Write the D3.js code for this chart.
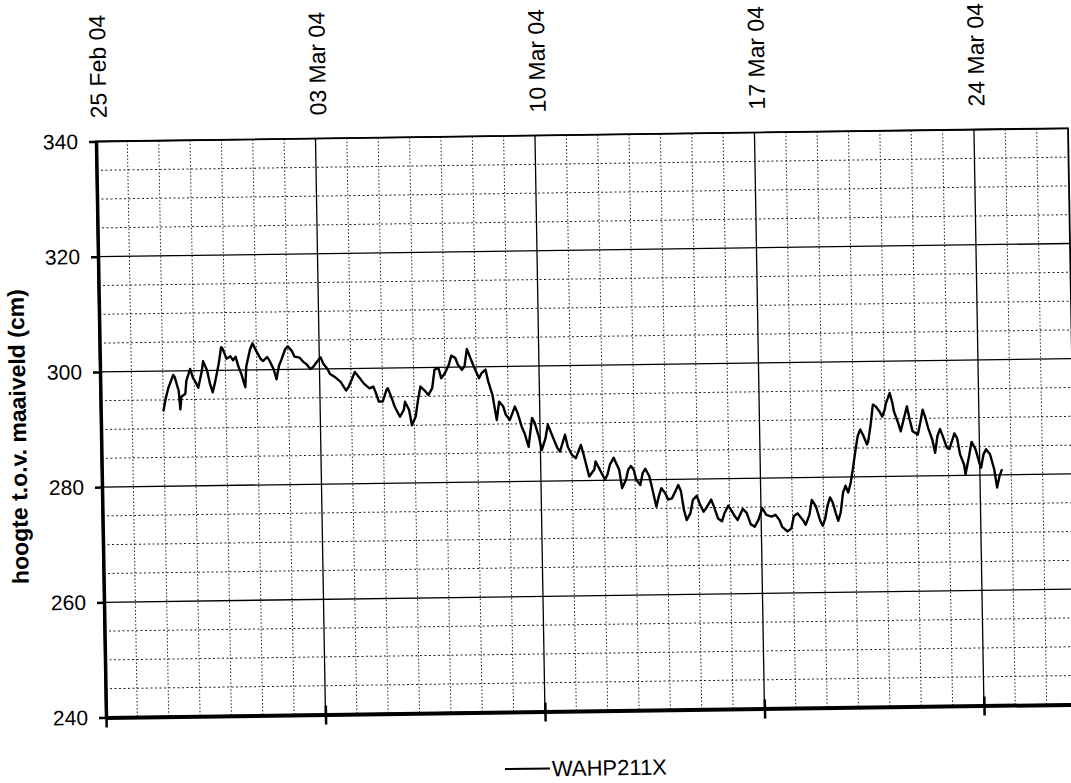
<!DOCTYPE html>
<html>
<head>
<meta charset="utf-8">
<script src="https://cdn.jsdelivr.net/npm/d3@7/dist/d3.min.js"></script>
<style>
body { margin: 0; background: #fff; }
text { font-family: "Liberation Sans", Arial, sans-serif; fill: #000; }
</style>
</head>
<body>
<div id="chart"></div>
<script>
// Water level WAHP211X, 25 Feb - 27 Mar 2004
var recordStart = Date.UTC(2004, 1, 25);   // 25 Feb 2004 00:00
var recordEnd = Date.UTC(2004, 2, 27);     // 27 Mar 2004 00:00

var dateTicks = ["2004-02-25", "2004-03-03", "2004-03-10", "2004-03-17", "2004-03-24"];
var levelTicks = [240, 260, 280, 300, 320, 340];
var seriesName = "WAHP211X";

// hours after 25 Feb 2004 00:00
var hours = [
    48, 50, 52, 56, 57, 60, 61, 62, 65, 66, 69, 71, 73, 75, 78, 79, 82, 84, 86, 88,
    91, 93, 94, 97, 100, 102, 104, 106, 108, 111, 112, 115, 117, 120, 123, 125, 128, 130, 133, 135,
    137, 139, 142, 144, 147, 149, 153, 156, 158, 161, 163, 166, 169, 171, 174, 176, 180, 184, 188, 190,
    193, 195, 198, 202, 206, 209, 211, 213,
    216, 219, 220, 223, 225, 229, 232, 233, 236, 238, 241, 243, 245, 249, 251, 254, 256, 259, 261, 264,
    267, 269, 272, 274, 277, 279, 281, 283, 286, 290, 292, 295, 297, 300, 303, 305, 308, 310, 313, 317,
    319, 322, 324, 327, 330, 332, 335, 337, 340, 342, 345, 349, 351, 355, 357, 360, 363, 367, 369, 373,
    377, 378, 380, 382, 385, 387, 389, 392, 393, 396, 398, 401, 403, 405, 407, 409, 412, 414, 416, 419,
    421, 424, 426, 428, 431, 433, 436, 438, 441, 443, 445, 447, 450, 452, 455, 457, 460, 462, 466, 468,
    471, 474, 476, 479, 481, 484, 486, 490, 493, 496, 499, 502, 505, 508, 512, 515, 518, 520, 524, 527,
    529, 532, 536, 538, 541, 543, 546, 549,
    551, 553, 555, 557, 559, 561, 563, 565, 567, 569, 571, 573, 575, 577, 579, 581, 583, 586, 587, 589,
    591, 593, 596, 598, 600, 601, 604, 606, 607, 610, 612, 615, 617, 619, 621, 625, 627, 629, 631, 633,
    636, 638, 640, 642, 644, 647, 649, 653, 655, 657, 660, 661, 664, 666, 669, 672, 673, 675, 677, 680,
    683, 685, 687, 689
];

// hoogte t.o.v. maaiveld (cm)
var levels = [
    293.0, 295.3, 297.0, 299.3, 299.0, 296.5, 293.3, 295.5, 296.0, 298.3, 300.3, 298.8, 298.0, 297.0, 300.0, 301.6, 300.0, 297.7, 296.2, 298.0,
    301.2, 304.0, 303.8, 302.0, 302.4, 301.7, 302.3, 300.6, 299.4, 297.0, 300.6, 303.5, 304.6, 303.2, 301.9, 301.5, 302.2, 301.5, 300.0, 298.3,
    300.6, 301.7, 303.5, 304.0, 303.2, 302.2, 302.0, 301.2, 300.9, 300.0, 300.3, 301.2, 302.0, 300.9, 300.0, 299.1, 298.5, 297.7, 296.2, 296.8,
    298.3, 299.4, 298.5, 297.3, 296.5, 296.8, 295.6, 294.2,
    294.2, 296.2, 296.5, 294.7, 293.3, 291.5, 292.7, 294.1, 292.7, 290.0, 291.5, 294.4, 296.7, 295.8, 295.2, 296.4, 299.6, 299.9, 298.1, 299.0,
    300.4, 302.0, 301.6, 300.4, 299.5, 300.1, 303.1, 301.9, 300.1, 298.0, 298.9, 299.5, 297.4, 295.1, 290.7, 293.9, 293.1, 291.6, 290.7, 293.0,
    291.9, 289.5, 288.4, 286.0, 291.0, 290.1, 287.7, 285.4, 287.4, 289.8, 288.0, 285.7, 285.1, 288.0, 285.9, 284.5, 283.9, 286.2, 284.5, 280.7,
    281.9, 283.3, 282.4, 281.5, 280.1, 281.0, 282.7, 283.9, 283.3, 281.8, 278.6, 280.0, 281.8, 282.4, 281.8, 280.0, 279.1, 281.2, 281.9, 280.6,
    278.5, 275.3, 277.1, 278.5, 277.6, 276.5, 276.7, 277.6, 279.0, 277.9, 274.7, 272.9, 274.1, 276.4, 277.1, 275.8, 274.3, 274.9, 276.4, 275.2,
    273.1, 272.6, 274.0, 275.3, 274.6, 273.4, 272.8, 274.7, 274.0, 272.0, 271.6, 272.8, 274.8, 273.6, 273.3, 273.6, 272.7, 271.5, 270.7, 271.2,
    273.3, 273.8, 272.6, 271.8, 273.5, 276.1, 275.0, 272.6,
    271.6, 272.8, 275.1, 276.5, 275.6, 273.9, 272.4, 273.9, 277.3, 278.5, 277.3, 279.0, 281.6, 284.5, 287.1, 288.2, 287.3, 285.6, 286.2, 289.0,
    292.5, 292.2, 291.3, 290.4, 291.6, 292.7, 294.5, 292.7, 291.3, 289.3, 287.8, 290.4, 292.1, 289.8, 287.8, 287.2, 289.2, 291.5, 290.1, 288.3,
    286.3, 284.0, 286.9, 288.1, 286.9, 284.9, 284.6, 287.3, 286.5, 283.7, 281.9, 280.2, 283.4, 285.8, 284.5, 281.9, 281.3, 283.6, 284.5, 283.6,
    281.0, 277.8, 279.8, 281.0
];

// Set up chart area
var svgWidth = 1071;
var svgHeight = 783;
var width = 972;
var height = 576;

// the original is a slightly skewed scan, so the whole chart gets a small shear
var svg = d3.select("#chart")
    .append("svg")
        .attr("width", svgWidth)
        .attr("height", svgHeight);

var chart = svg.append("g")
    .attr("transform", "matrix(1,-0.01358,0.01736,1,96,141.5)");

var parseDay = d3.utcParse("%Y-%m-%d");
var weekDates = dateTicks.map(parseDay);

var x = d3.scaleUtc()
    .domain([new Date(recordStart), new Date(recordEnd)])
    .range([0, width]);

var y = d3.scaleLinear()
    .domain([240, 340])
    .range([height, 0]);

var data = hours.map(function(h, i) {
    return { date: new Date(recordStart + h * 3600000), level: levels[i] };
});

// minor gridlines: every day, every 5 cm
var days = d3.utcDay.range(new Date(recordStart), new Date(recordEnd))
    .filter(d => !weekDates.some(w => +w === +d));
var minorLevels = d3.range(245, 340, 5).filter(v => v % 20 !== 0);

chart.append("g").selectAll("line")
    .data(days)
    .join("line")
        .attr("x1", d => x(d)).attr("x2", d => x(d))
        .attr("y1", 0).attr("y2", height)
        .attr("stroke", "#222")
        .attr("stroke-width", 1)
        .attr("stroke-dasharray", "1.5,2");

chart.append("g").selectAll("line")
    .data(minorLevels)
    .join("line")
        .attr("x1", 0).attr("x2", width)
        .attr("y1", d => y(d)).attr("y2", d => y(d))
        .attr("stroke", "#222")
        .attr("stroke-width", 1)
        .attr("stroke-dasharray", "2,2.5");

// major gridlines
chart.append("g").selectAll("line")
    .data(weekDates.slice(1))
    .join("line")
        .attr("x1", d => x(d)).attr("x2", d => x(d))
        .attr("y1", 0).attr("y2", height)
        .attr("stroke", "#000")
        .attr("stroke-width", 1.3);

chart.append("g").selectAll("line")
    .data(levelTicks.slice(1))
    .join("line")
        .attr("x1", 0).attr("x2", width)
        .attr("y1", d => y(d)).attr("y2", d => y(d))
        .attr("stroke", "#000")
        .attr("stroke-width", 1.3);

// plot border
chart.append("rect")
    .attr("width", width)
    .attr("height", height)
    .attr("fill", "none")
    .attr("stroke", "#000")
    .attr("stroke-width", 1.8);

// the series
var line = d3.line()
    .x(d => x(d.date))
    .y(d => y(d.level));

chart.append("path")
    .datum(data)
    .attr("d", line)
    .attr("fill", "none")
    .attr("stroke", "#000")
    .attr("stroke-width", 2.4)
    .attr("stroke-linejoin", "round");

// bottom axis with crossing ticks
var xAxis = chart.append("g")
    .attr("transform", "translate(0," + height + ")")
    .call(d3.axisBottom(x).tickValues(weekDates).tickSize(10).tickSizeOuter(0).tickFormat(""));
xAxis.select(".domain").attr("stroke-width", 4);
xAxis.selectAll(".tick line").attr("y1", -9).attr("stroke-width", 2.5);

// left axis
var yAxis = chart.append("g")
    .call(d3.axisLeft(y).tickValues(levelTicks).tickSize(7).tickSizeOuter(0).tickPadding(11).tickFormat(d3.format("d")));
yAxis.select(".domain").attr("stroke-width", 3.5);
yAxis.selectAll(".tick line").attr("stroke-width", 2.5);
yAxis.selectAll("text")
    .attr("font-family", "Liberation Sans, Arial, sans-serif")
    .attr("font-size", 21)
    .attr("fill", "#000");

// date labels along the top
var fmt = d3.utcFormat("%d %b %y");
chart.append("g").selectAll("text")
    .data(weekDates)
    .join("text")
        .attr("transform", d => "translate(" + (x(d) + 3) + ",-23) rotate(-90)")
        .attr("dy", "0.35em")
        .attr("font-size", 23)
        .text(d => fmt(d));

// y axis title
chart.append("text")
    .attr("transform", "translate(-83,294) rotate(-90)")
    .attr("text-anchor", "middle")
    .attr("dy", "0.35em")
    .attr("font-size", 23)
    .attr("font-weight", "bold")
    .text("hoogte t.o.v. maaiveld (cm)");

// legend
var legend = chart.append("g").attr("transform", "translate(398,633)");
legend.append("line")
    .attr("x1", 0).attr("x2", 45)
    .attr("stroke", "#000")
    .attr("stroke-width", 2);
legend.append("text")
    .attr("x", 47)
    .attr("dy", "0.35em")
    .attr("font-size", 22)
    .text(seriesName);
</script>
</body>
</html>
